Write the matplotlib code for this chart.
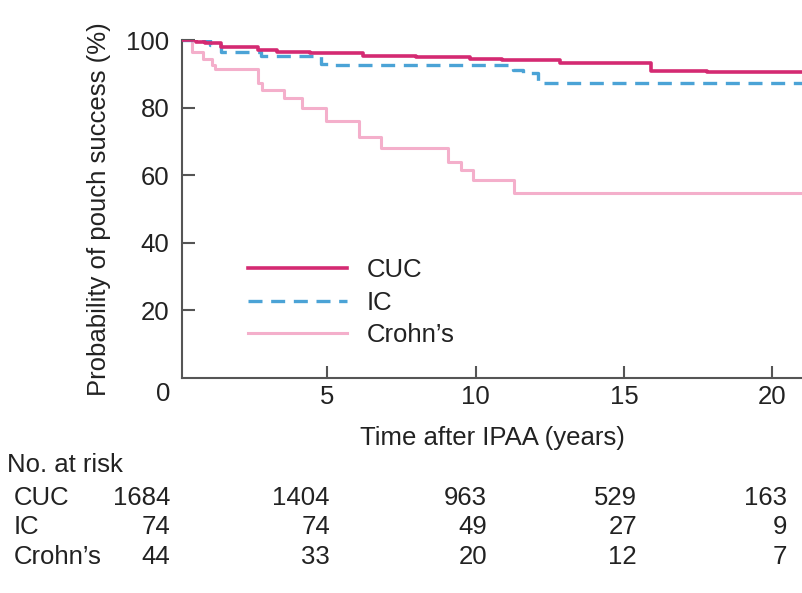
import matplotlib
matplotlib.use("Agg")
import matplotlib.pyplot as plt

plt.rcParams['font.family'] = ['Liberation Sans', 'DejaVu Sans']
plt.rcParams['font.size'] = 18.5

# Kaplan-Meier step points (years, % success)
cuc_t = [0, 0.58, 0.89, 1.43, 2.67, 3.3, 4.4, 6.2, 8.0, 9.8, 10.9, 12.85, 15.9, 17.8, 21.0]
cuc_s = [100, 99.5, 99.0, 98.0, 97.0, 96.5, 96.2, 95.3, 94.9, 94.5, 94.1, 93.1, 90.8, 90.4, 90.4]

ic_t = [0, 1.05, 1.43, 2.77, 4.8, 5.1, 11.27, 11.6, 12.1, 21.0]
ic_s = [100, 98.4, 96.4, 95.4, 93.0, 92.6, 91.0, 90.3, 87.2, 87.2]

crohn_t = [0, 0.45, 0.8, 1.1, 1.2, 2.65, 2.8, 3.55, 4.15, 4.95, 6.05, 6.8, 9.05, 9.5, 9.9, 11.3, 21.0]
crohn_s = [100, 96.4, 94.5, 92.5, 91.5, 87.2, 85.2, 82.7, 79.8, 75.9, 71.4, 67.9, 64.0, 61.5, 58.6, 54.8, 54.8]

groups = ['CUC', 'IC', "Crohn\u2019s"]
at_risk_cuc = [1684, 1404, 963, 529, 163]
at_risk_ic = [74, 74, 49, 27, 9]
at_risk_crohn = [44, 33, 20, 12, 7]

W, H = 802, 593
fig = plt.figure(figsize=(W / 100, H / 100), dpi=100)
ax = fig.add_axes([182 / W, 1 - 378 / H, 620 / W, 338 / H])

c_cuc = '#d42a72'
c_ic = '#4ba3d6'
c_crohn = '#f4afcb'

ax.step(cuc_t, cuc_s, where='post', color=c_cuc, lw=2.6, label=groups[0], zorder=3)
ax.step(ic_t, ic_s, where='post', color=c_ic, lw=2.4, dashes=(4.2, 2.6), label=groups[1], zorder=2)
ax.step(crohn_t, crohn_s, where='post', color=c_crohn, lw=2.2, label=groups[2], zorder=1)

ax.set_xlim(0.1, 21.0)
ax.set_ylim(0, 100)
ax.set_xticks([5, 10, 15, 20])
ax.set_yticks([20, 40, 60, 80, 100])
for s in ['top', 'right']:
    ax.spines[s].set_visible(False)
for s in ['left', 'bottom']:
    ax.spines[s].set_color('#555555')
    ax.spines[s].set_linewidth(1.5)
ax.tick_params(direction='in', length=9, width=1.5, color='#555555', labelcolor='#222222')
ax.tick_params(axis='y', pad=9)
ax.tick_params(axis='x', pad=5)

ax.set_xlabel('Time after IPAA (years)', color='#222222', labelpad=12)
ax.set_ylabel('Probability of pouch success (%)', color='#222222')
ax.yaxis.set_label_coords(-0.115, 0.50)

fig.text(163 / W, 1 - 394 / H, '0', ha='center', va='center', color='#222222')

ax.legend(loc='upper left', bbox_to_anchor=(0.106, 0.355), frameon=False,
          handlelength=3.85, handletextpad=0.78, labelspacing=0.34, borderpad=0,
          borderaxespad=0, labelcolor='#222222')

# number at risk table
col_right = [170, 330, 487, 637, 787]
row_y = [498, 527, 557]
fig.text(7 / W, 1 - 465 / H, 'No. at risk', ha='left', va='center', color='#222222')
for name, vals, y in zip(groups, [at_risk_cuc, at_risk_ic, at_risk_crohn], row_y):
    fig.text(14 / W, 1 - y / H, name, ha='left', va='center', color='#222222')
    for v, x in zip(vals, col_right):
        fig.text(x / W, 1 - y / H, str(v), ha='right', va='center', color='#222222')

fig.savefig('out.png', dpi=100, facecolor='white')
